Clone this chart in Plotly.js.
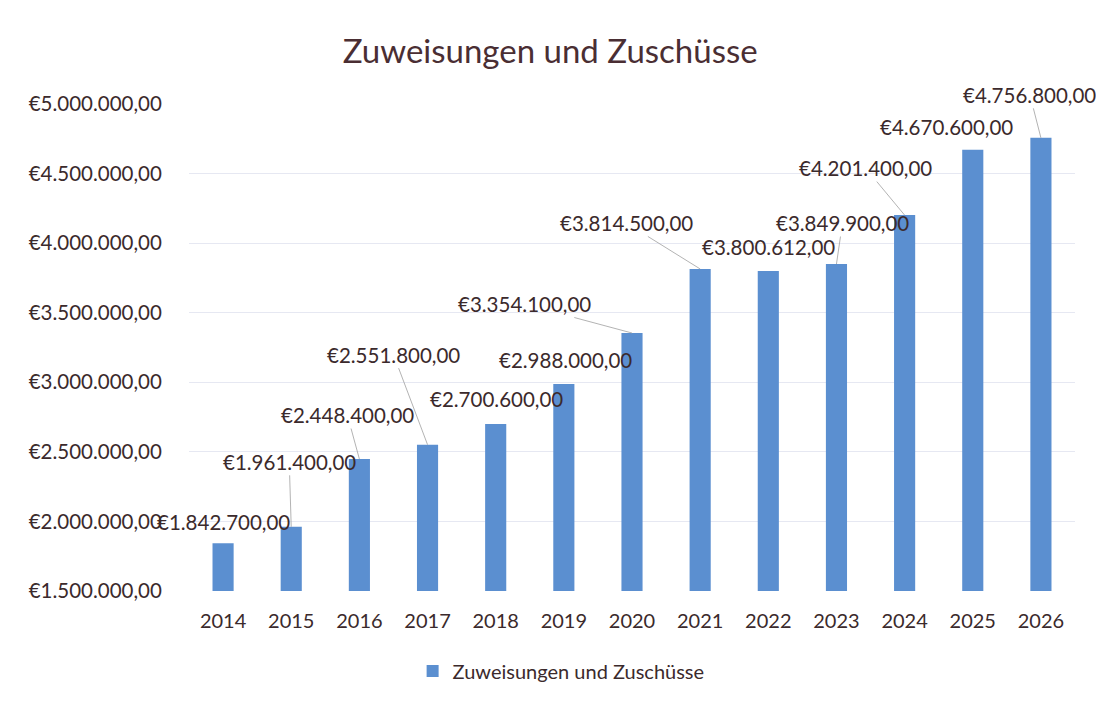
<!DOCTYPE html>
<html>
<head>
<meta charset="utf-8">
<script src="https://cdn.plot.ly/plotly-3.0.1.min.js"></script>
<style>html,body{margin:0;padding:0;background:#fff;}#chart{width:1096px;height:701px;}</style>
</head>
<body>
<div id="chart"></div>
<script>
// ---- data ----
const years = ["2014","2015","2016","2017","2018","2019","2020","2021","2022","2023","2024","2025","2026"];
const values = [1842700, 1961400, 2448400, 2551800, 2700600, 2988000, 3354100, 3814500, 3800612, 3849900, 4201400, 4670600, 4756800];
const seriesName = "Zuweisungen und Zuschüsse";
const yTickValues = [1500000, 2000000, 2500000, 3000000, 3500000, 4000000, 4500000, 5000000];

// label placement (pixel offsets of each data label from its bar top) and whether a leader line is drawn
const labelOffsetX = [0, -2, -12, -34, 1, 2, -108, -74, 0, 6, -39, -26, -11];
const labelOffsetY = [-21, -65, -44, -90, -25, -24, -29, -46, -24, -41, -47, -23, -43];
const leaderLine = [false, true, true, true, false, false, true, true, false, true, true, false, true];

function euro(v) {
  const parts = Math.round(v * 100) / 100;
  let intPart = Math.floor(parts).toString();
  let dec = Math.round((parts - Math.floor(parts)) * 100).toString().padStart(2, "0");
  intPart = intPart.replace(/\B(?=(\d{3})+(?!\d))/g, ".");
  return "€" + intPart + "," + dec;
}

const textColor = "#3b2a2c";
const font = "Lato, 'Open Sans', sans-serif";

const annotations = years.map((y, i) => ({
  x: i, y: values[i], xref: "x", yref: "y",
  text: euro(values[i]),
  showarrow: true, arrowhead: 0, arrowwidth: 0.8, standoff: 0,
  arrowcolor: leaderLine[i] ? "#a0a0a0" : "rgba(0,0,0,0)",
  ax: labelOffsetX[i], ay: labelOffsetY[i],
  font: {family: font, size: 20.5, color: textColor}
}));

const trace = {
  type: "bar", x: years, y: values, name: seriesName,
  marker: {color: "#5b8fd0"},
  showlegend: true, hoverinfo: "x+y"
};

const layout = {
  width: 1096, height: 701,
  paper_bgcolor: "#ffffff", plot_bgcolor: "#ffffff",
  margin: {l: 189, r: 21, t: 104, b: 109, pad: 0},
  title: {text: "Zuweisungen und Zuschüsse", x: 0.502, xanchor: "center", y: 0.926, yanchor: "middle",
          font: {family: font, size: 33, color: "#4a2e33"}},
  bargap: 0.69,
  xaxis: {type: "category", range: [-0.5, years.length - 0.5], autorange: false,
          showgrid: false, zeroline: false, showline: false,
          ticks: "outside", ticklen: 12, tickcolor: "rgba(0,0,0,0)",
          tickfont: {family: font, size: 20, color: textColor}},
  yaxis: {range: [1500000, 5000000], autorange: false, tickvals: yTickValues, ticktext: yTickValues.map(euro),
          showgrid: true, gridcolor: "#e6e8f2", gridwidth: 1, zeroline: false, showline: false,
          ticks: "outside", ticklen: 22, tickcolor: "rgba(0,0,0,0)",
          tickfont: {family: font, size: 20.5, color: textColor}},
  showlegend: true,
  legend: {orientation: "h", x: 0.42, xanchor: "center", y: -0.162, yanchor: "middle",
           font: {family: font, size: 20, color: textColor}},
  annotations: annotations
};

Plotly.newPlot("chart", [trace], layout, {displayModeBar: false, staticPlot: true});
</script>
</body>
</html>
